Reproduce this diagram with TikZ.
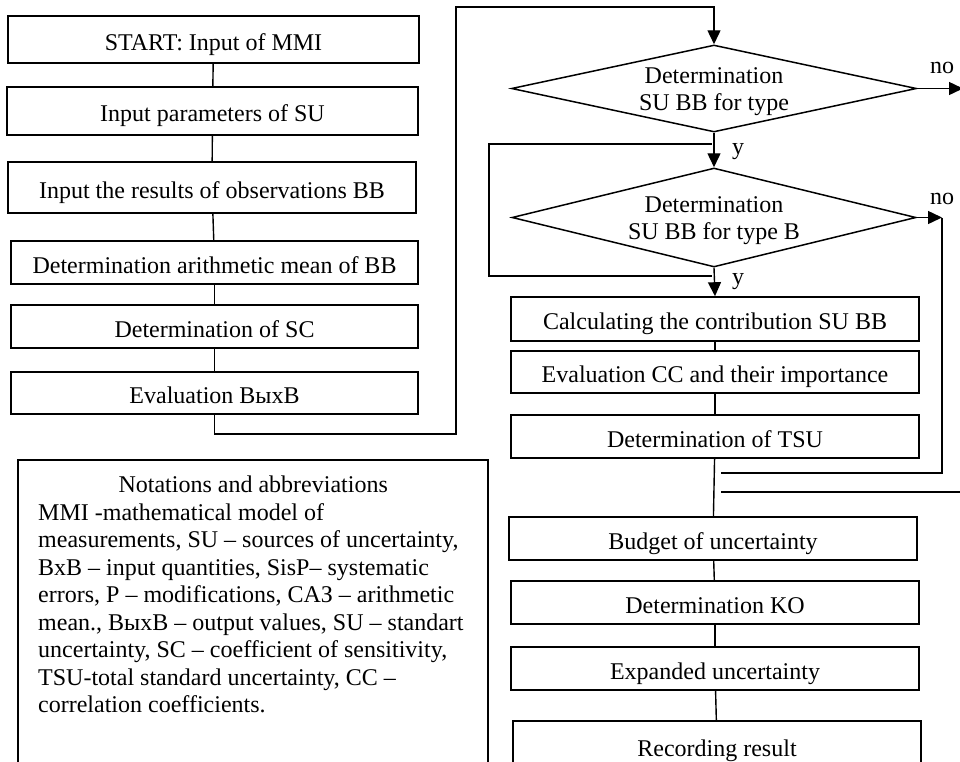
\documentclass[tikz,border=0pt]{standalone}
\usepackage{fontspec}
\setmainfont{Liberation Serif}
\usetikzlibrary{arrows.meta,shapes.geometric}

\begin{document}
\begin{tikzpicture}[x=1pt,y=-1pt,font=\fontsize{24}{27.5}\selectfont,
stepbox/.style={draw,line width=1.6pt,inner sep=0pt,minimum width=408pt,minimum height=43pt,text height=21pt,text depth=0pt},
decision/.style={diamond,draw,line width=1.5pt,inner sep=0pt},
myline/.style={line width=1.4pt},
myarrow/.style={line width=1.4pt,-{Triangle[length=14pt,width=13pt]}}]
\useasboundingbox (0,0) rectangle (960,761);
\clip (0,0) rectangle (960,761);
\node[stepbox,minimum width=411pt,minimum height=47pt] (start) at (213.5,39.5) {START: Input of MMI};
\node[stepbox,minimum width=411pt,minimum height=48pt] (param) at (212.5,111) {Input parameters of SU};
\node[stepbox,minimum height=51pt] (obs) at (212,187.5) {Input the results of observations BB};
\node[stepbox,minimum width=407pt] (mean) at (214.5,262.5) {Determination arithmetic mean of BB};
\node[stepbox,minimum width=407pt] (sens) at (214.5,326.5) {Determination of SC};
\node[stepbox,minimum width=407pt,minimum height=42pt] (outv) at (214.5,393) {Evaluation ВыхВ};
\node[decision,minimum width=405pt,minimum height=87pt] (typeA) at (714,88.5) {};
\node[align=center,yshift=-3pt] (typeAtext) at (typeA.center) {Determination\\SU BB for type};
\node[decision,minimum width=404pt,minimum height=99pt] (typeB) at (714,217.5) {};
\node[align=center,yshift=-3pt] (typeBtext) at (typeB.center) {Determination\\SU BB for type B};
\node[stepbox,minimum height=44pt] (contr) at (715,319) {Calculating the contribution SU BB};
\node[stepbox,minimum height=42pt] (corr) at (715,372) {Evaluation CC and their importance};
\node[stepbox] (tsu) at (715,436.5) {Determination of TSU};
\node[stepbox] (budget) at (713,538.5) {Budget of uncertainty};
\node[stepbox] (cover) at (715,602.5) {Determination KO};
\node[stepbox] (expand) at (715,668.5) {Expanded uncertainty};
\node[stepbox,minimum height=50pt] (record) at (717,746) {Recording result};
\node[draw,line width=1.6pt,inner sep=0pt,minimum width=470pt,minimum height=340pt] (notes) at (253,630) {};
\node[anchor=north west,inner sep=0pt,align=left] (notestext) at (38,476) {\makebox[430pt]{Notations and abbreviations}\\
MMI -mathematical model of\\
measurements, SU -- sources of uncertainty,\\
BxB -- input quantities, SisP-- systematic\\
errors, P -- modifications, CAЗ -- arithmetic\\
mean., ВыхВ -- output values, SU -- standart\\
uncertainty, SC -- coefficient of sensitivity,\\
TSU-total standard uncertainty, CC --\\
correlation coefficients.};
\node (ya) at (738,152) {y};
\node (yb) at (738,282) {y};
\node (noa) at (942,68) {no};
\node (nob) at (942,199) {no};
\coordinate (bend) at (456,434);
\coordinate (top) at (456,7);
\coordinate (na) at (963,88.5);
\coordinate (nb) at (942,217.5);
\coordinate (ret) at (945,473);
\coordinate (retend) at (721,473);
\coordinate (outa) at (962,492);
\coordinate (outb) at (721,492);
\coordinate (la) at (712,144);
\coordinate (lb) at (489,144);
\coordinate (lc) at (489,276);
\coordinate (ld) at (712,276);
\draw[myline] (start) -- (param);
\draw[myline] (param) -- (obs);
\draw[myline] (obs) -- (mean);
\draw[myline] (mean) -- (sens);
\draw[myline] (sens) -- (outv);
\draw[myarrow] (outv.south) -- (outv.south |- bend) -- (bend) -- (top) -- (typeA.north |- top) -- (typeA.north);
\draw[myarrow] (typeA.south) -- (typeB.north);
\draw[myarrow] (typeB.south) -- (contr.north);
\draw[myarrow] (typeA.east) -- (na);
\draw[myarrow] (typeB.east) -- (nb);
\draw[myline] (nb) -- (nb |- ret) -- (retend);
\draw[myline] (outa) -- (outb);
\draw[myline] (la) -- (lb) -- (lc) -- (ld);
\draw[myline] (contr) -- (corr);
\draw[myline] (corr) -- (tsu);
\draw[myline] (tsu) -- (budget);
\draw[myline] (budget) -- (cover);
\draw[myline] (cover) -- (expand);
\draw[myline] (expand) -- (record);
\end{tikzpicture}
\end{document}
